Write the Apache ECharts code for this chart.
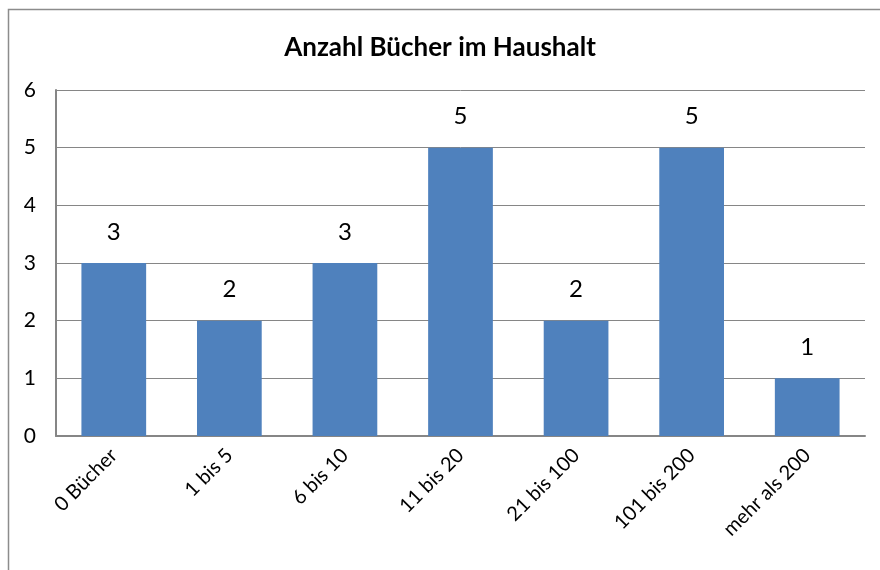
<!DOCTYPE html>
<html>
<head>
<meta charset="utf-8">
<script src="https://cdn.jsdelivr.net/npm/echarts@6/dist/echarts.min.js"></script>
<style>
  html, body { margin: 0; padding: 0; background: #fff; }
  #chart { width: 880px; height: 570px; }
</style>
</head>
<body>
<div id="chart"></div>
<script>
const categories = ['0 Bücher', '1 bis 5', '6 bis 10', '11 bis 20', '21 bis 100', '101 bis 200', 'mehr als 200']
const counts = [3, 2, 3, 5, 2, 5, 1]
const yTicks = [0, 1, 2, 3, 4, 5, 6]

const font = 'Lato, "Open Sans", sans-serif'
const chart = echarts.init(document.getElementById('chart'))

chart.setOption({
  animation: false,
  backgroundColor: '#fff',
  textStyle: { fontFamily: font },
  title: {
    text: 'Anzahl Bücher im Haushalt',
    left: 'center',
    top: 30,
    textStyle: { fontSize: 26, fontWeight: 'bold', color: '#000', fontFamily: font }
  },
  graphic: [{
    type: 'rect',
    shape: { x: 8.5, y: 9.5, width: 900, height: 600 },
    style: { fill: 'none', stroke: '#8c8c8c', lineWidth: 1.5 },
    z: -1
  }],
  grid: { left: 56, right: 15, top: 90, bottom: 134 },
  xAxis: {
    type: 'category',
    data: categories,
    axisLine: { lineStyle: { color: '#868686', width: 2 } },
    axisTick: { show: false },
    axisLabel: { rotate: 45, margin: 16, fontSize: 20, color: '#000', fontFamily: font }
  },
  yAxis: {
    type: 'value',
    min: yTicks[0],
    max: yTicks[yTicks.length - 1],
    interval: 1,
    axisLine: { show: true, lineStyle: { color: '#868686', width: 2 } },
    axisTick: { show: false },
    axisLabel: { margin: 20, fontSize: 21, color: '#000', fontFamily: font },
    splitLine: { lineStyle: { color: '#868686', width: 1 } }
  },
  series: [{
    type: 'bar',
    data: counts,
    barWidth: '56%',
    itemStyle: { color: '#4f81bd' },
    label: {
      show: true,
      position: 'top',
      distance: 19,
      fontSize: 24,
      color: '#000',
      fontFamily: font
    }
  }]
})
</script>
</body>
</html>
